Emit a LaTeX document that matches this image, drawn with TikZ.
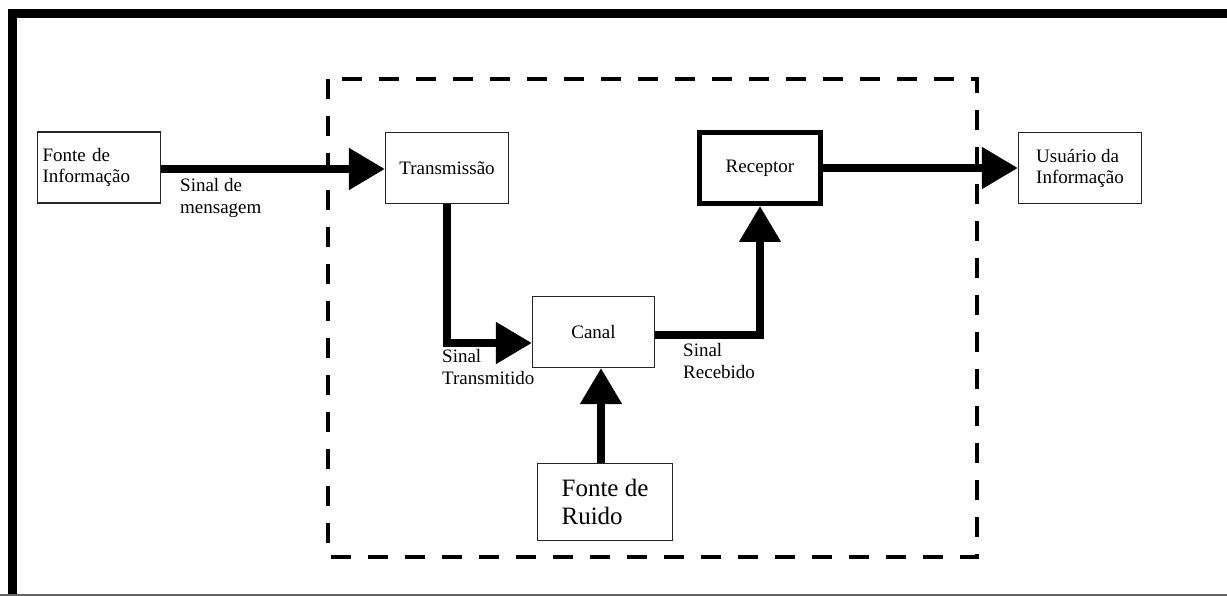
\documentclass[tikz,border=0pt]{standalone}
\usepackage{fontspec}
\setmainfont{Liberation Serif}
\usetikzlibrary{arrows.meta,calc}
\begin{document}
\begin{tikzpicture}[x=1pt,y=-1pt,
  box/.style={draw=black!85, line width=1.2pt, minimum width=123pt,
    minimum height=71pt, inner sep=5pt, font=\fontsize{19}{21}\selectfont},
  thickbox/.style={box, draw=black, line width=5pt, minimum width=121pt},
  flow/.style={line width=8pt, -{Triangle[length=36pt,width=40pt]}},
  lbl/.style={inner sep=0pt, anchor=north west, align=left,
    font=\fontsize{19}{22}\selectfont}]
\useasboundingbox (0,0) rectangle (1227,596);
\fill[white] (0,0) rectangle (1227,596);

% frame: heavy rule on the left and top, thin grey rule at the foot
\draw[line width=9pt] (12,596) -- (12,13.3) -- (1227,13.3);
\draw[black!60, line width=1.5pt] (0,595.2) -- (1227,595.2);

% dashed system boundary
\draw[line width=4.5pt, dash pattern=on 20pt off 17pt] (328,79) rectangle (977,557);

% blocks
\node[box, text width=113pt, align=left] (fonte) at (99,167.5) {Fonte de\\Informação};
\node[box] (trans) at (447,168) {Transmissão};
\node[thickbox] (rec) at (760,168) {Receptor};
\node[box, align=left] (user) at (1080,168) {Usuário da\\Informação};
\node[box, minimum width=122pt] (canal) at (593.5,332) {Canal};
\node[box, minimum width=135pt, minimum height=77pt, align=left,
  font=\fontsize{25}{28}\selectfont] (ruido) at (605,502) {Fonte de\\Ruido};

% signal paths
\draw[flow] (fonte.east |- 0,169) -- (trans.west |- 0,169);
\draw[flow] (trans.south) |- ($(canal.west)+(0,11)$);
\draw[flow] ($(canal.east)+(0,3)$) -| (rec.south);
\draw[flow] (rec.east) -- (user.west);
\coordinate (nz) at ([xshift=-4pt]ruido.north);
\draw[flow] (nz) -- (nz |- canal.south);

% signal names
\node[lbl] (lm) at (180,178) {Sinal de\\mensagem};
\node[lbl] (lt) at (442,349) {Sinal\\Transmitido};
\node[lbl] (lr) at (683,343) {Sinal\\Recebido};
\end{tikzpicture}
\end{document}
